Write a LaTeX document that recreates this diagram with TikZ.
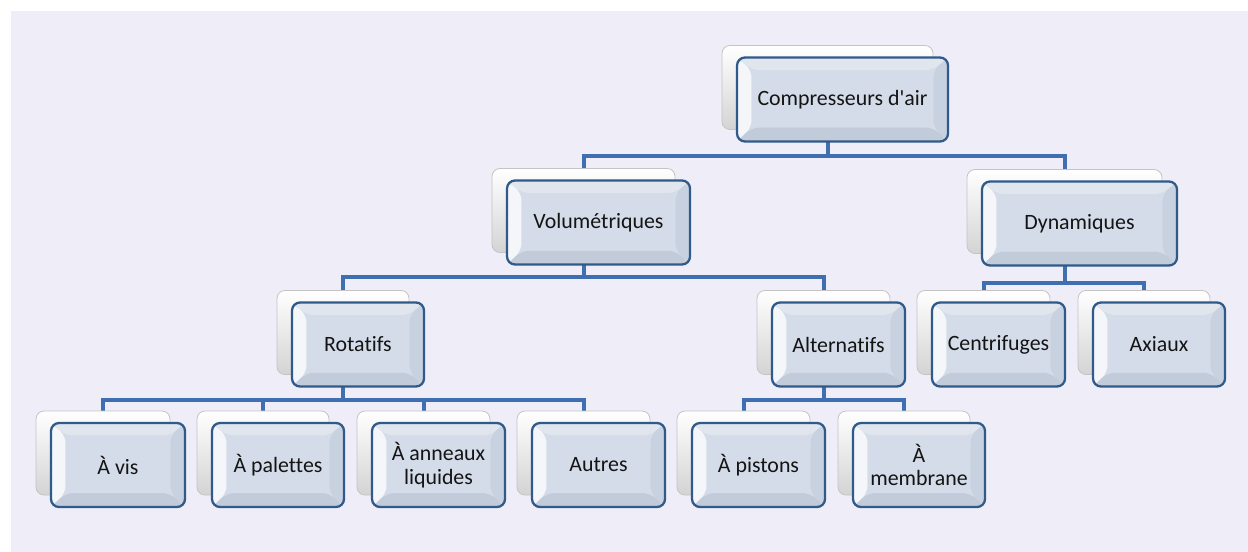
\documentclass[tikz,border=0pt]{standalone}
\usepackage{fontspec}
\setmainfont{Carlito}[Ligatures={TeXOff,NoCommon}]
\usetikzlibrary{calc}
\definecolor{bgl}{HTML}{EFEDF7}
\definecolor{conncol}{HTML}{3F6EB1}
\definecolor{fborder}{HTML}{2F5A8A}
\definecolor{fface}{HTML}{D4DCE9}
\definecolor{fleft}{HTML}{F4F6FA}
\definecolor{ftop}{HTML}{E0E5EE}
\definecolor{fright}{HTML}{C8D1DF}
\definecolor{fbot}{HTML}{C2CBDA}
\definecolor{bborder}{HTML}{C4C4C4}
\definecolor{txt}{HTML}{141414}
\pgfdeclarelayer{bglayer}
\pgfdeclarelayer{connlayer}
\pgfsetlayers{bglayer,connlayer,main}
\tikzset{
  conn/.style={draw=conncol, line width=3pt},
  bbox/.style={draw=bborder, line width=0.6pt, rounded corners=6pt,
    top color=white, bottom color=black!17, minimum height=84*0.75pt,
    inner sep=0pt},
  fbox/.style={draw=fborder, line width=1.7pt, rounded corners=6pt,
    fill=fface, minimum height=84*0.75pt, inner sep=2pt, align=center,
    text=txt, font=\fontsize{16.4}{17.6}\selectfont,
    path picture={
      \path (path picture bounding box.north west) coordinate (pA)
            (path picture bounding box.north east) coordinate (pB)
            (path picture bounding box.south east) coordinate (pC)
            (path picture bounding box.south west) coordinate (pD);
      \path ([xshift=11pt,yshift=-9.5pt]pA) coordinate (pa)
            ([xshift=-11pt,yshift=-9.5pt]pB) coordinate (pb)
            ([xshift=-11pt,yshift=10.5pt]pC) coordinate (pc)
            ([xshift=11pt,yshift=10.5pt]pD) coordinate (pd);
      \fill[fleft] (pA) -- (pa) -- (pd) -- (pD) -- cycle;
      \fill[ftop] (pA) -- (pB) -- (pb) -- (pa) -- cycle;
      \fill[fright] (pB) -- (pC) -- (pc) -- (pb) -- cycle;
      \fill[fbot] (pD) -- (pC) -- (pc) -- (pd) -- cycle;
      \fill[fface] (pa) -- (pb) -- (pc) -- (pd) -- cycle;
    }}
}
\newcommand\cbox[5]{%
  \node[bbox, minimum width=#4*0.75pt] (#1b) at (#2-15,#3-12) {};
  \node[fbox, minimum width=#4*0.75pt] (#1) at (#2,#3) {#5};}
\begin{document}
\begin{tikzpicture}[x=0.75pt,y=-0.75pt]
\useasboundingbox (0,0) rectangle (1248,552);
\begin{pgfonlayer}{bglayer}
\fill[bgl] (11,11) rectangle (1248,552);
\end{pgfonlayer}
\cbox{root}{842.5}{99.5}{211}{Compresseurs d'air}
\cbox{vol}{598.5}{222.5}{183}{Volumétriques}
\cbox{dyn}{1079.5}{223.5}{195}{Dynamiques}
\cbox{rot}{358}{344.5}{132}{Rotatifs}
\cbox{alt}{838.5}{344.5}{133}{Alternatifs}
\cbox{cen}{998.5}{344.5}{133}{Centrifuges}
\cbox{axi}{1159}{344.5}{132}{Axiaux}
\cbox{vis}{118}{465}{134}{À vis}
\cbox{pal}{278}{465}{132}{À palettes}
\cbox{ann}{438.5}{465}{133}{À anneaux\\liquides}
\cbox{aut}{598.5}{465}{133}{Autres}
\cbox{pis}{758.5}{465}{133}{À pistons}
\cbox{mem}{919}{465}{132}{À\\membrane}
\coordinate (j1) at (rootb.center |- 0,156);
\coordinate (j2) at (volb.center |- 0,277);
\coordinate (j3) at (dynb.center |- 0,283);
\coordinate (j4) at (rotb.center |- 0,400);
\coordinate (j5) at (altb.center |- 0,400);
\begin{pgfonlayer}{connlayer}
\draw[conn] (rootb.center) -- (j1) -| (volb.center);
\draw[conn] (j1) -| (dynb.center);
\draw[conn] (volb.center) -- (j2) -| (rotb.center);
\draw[conn] (j2) -| (altb.center);
\draw[conn] (dynb.center) -- (j3) -| (cenb.center);
\draw[conn] (j3) -| (axib.center);
\draw[conn] (rotb.center) -- (j4) -| (visb.center);
\draw[conn] (j4) -| (palb.center);
\draw[conn] (j4) -| (annb.center);
\draw[conn] (j4) -| (autb.center);
\draw[conn] (altb.center) -- (j5) -| (pisb.center);
\draw[conn] (j5) -| (memb.center);
\end{pgfonlayer}
\end{tikzpicture}
\end{document}
